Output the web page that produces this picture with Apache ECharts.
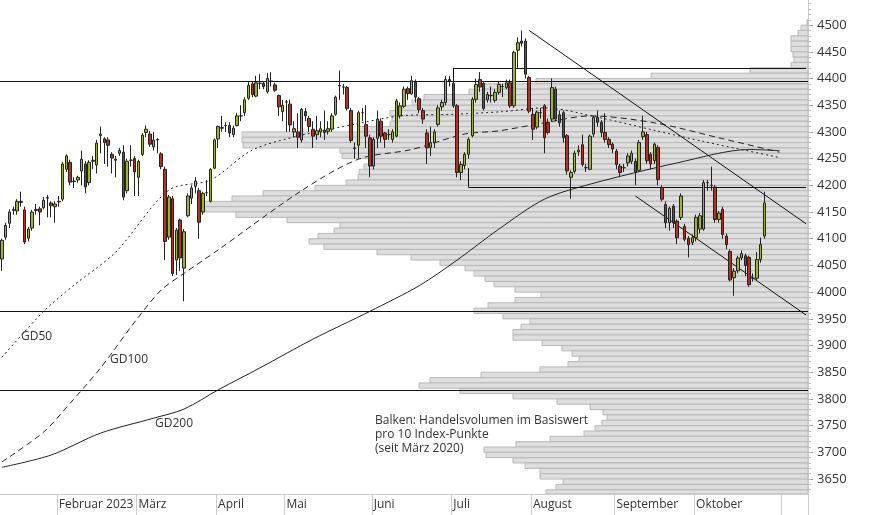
<!DOCTYPE html>
<html><head><meta charset="utf-8">
<script src="https://cdn.jsdelivr.net/npm/echarts@6/dist/echarts.min.js"></script>
<style>html,body{margin:0;padding:0;background:#fff}#c{width:874px;height:515px}</style>
</head><body><div id="c"></div>
<script>
// [open, close, low, high]
const ohlc = [
[4062,4097,4040,4100],[4103,4125,4098,4130],[4129,4150,4120,4155],[4153,4155,4145,4160],[4152,4170,4145,4174],
[4168,4170,4160,4188],[4154,4094,4090,4160],[4101,4118,4095,4122],[4120,4150,4115,4154],[4153,4155,4145,4165],
[4156,4150,4125,4160],[4158,4172,4155,4178],[4176,4177,4140,4182],[4167,4162,4140,4170],[4160,4165,4130,4170],
[4169,4170,4160,4180],[4174,4240,4170,4244],[4230,4255,4225,4258],[4243,4206,4200,4248],[4208,4207,4195,4215],
[4210,4215,4205,4218],[4227,4249,4200,4265],[4240,4197,4185,4245],[4205,4243,4200,4247],[4245,4247,4230,4255],
[4238,4279,4222,4285],[4293,4296,4260,4310],[4287,4280,4240,4290],[4285,4275,4235,4290],[4258,4251,4222,4262],
[4249,4247,4215,4255],[4260,4265,4255,4270],[4262,4178,4172,4275],[4190,4245,4185,4250],[4247,4247,4235,4275],
[4250,4225,4180,4255],[4215,4245,4180,4248],[4258,4294,4255,4298],[4299,4305,4290,4312],[4296,4277,4272,4302],
[4272,4285,4265,4300],[4286,4285,4260,4288],[4259,4235,4230,4262],[4230,4095,4060,4235],[4103,4178,4098,4182],
[4175,4035,4030,4180],[4060,4116,4032,4120],[4135,4064,4040,4138],[4045,4113,3983,4118],[4143,4180,4140,4185],
[4176,4195,4165,4200],[4198,4208,4185,4215],[4190,4131,4100,4195],[4150,4185,4145,4188],[4186,4186,4180,4210],
[4170,4230,4168,4232],[4232,4285,4230,4288],[4287,4310,4270,4312],[4307,4308,4300,4330],[4312,4312,4300,4318],
[4312,4298,4290,4318],[4295,4307,4290,4312],[4312,4330,4310,4335],[4330,4330,4320,4350],[4336,4360,4330,4365],
[4363,4387,4360,4395],[4390,4370,4365,4395],[4367,4392,4365,4405],[4391,4391,4380,4408],[4391,4385,4380,4395],
[4375,4400,4372,4410],[4395,4395,4385,4412],[4388,4378,4375,4392],[4368,4347,4330,4370],[4338,4350,4320,4360],
[4356,4356,4300,4360],[4352,4313,4300,4360],[4300,4306,4290,4320],[4300,4290,4270,4335],[4285,4342,4280,4345],
[4338,4330,4320,4345],[4325,4310,4300,4330],[4305,4292,4270,4320],[4295,4302,4285,4330],[4300,4306,4290,4320],
[4303,4299,4285,4340],[4301,4306,4295,4320],[4305,4330,4300,4335],[4333,4365,4330,4368],[4386,4387,4360,4415],
[4384,4384,4370,4390],[4383,4344,4340,4386],[4340,4284,4280,4345],[4270,4269,4250,4280],[4275,4336,4250,4340],
[4336,4336,4320,4345],[4314,4292,4270,4350],[4289,4236,4215,4295],[4236,4286,4230,4290],[4288,4324,4270,4340],
[4320,4292,4280,4325],[4298,4286,4270,4300],[4295,4295,4285,4305],[4286,4300,4280,4305],[4292,4358,4290,4362],
[4330,4349,4325,4355],[4348,4380,4345,4385],[4381,4372,4360,4385],[4371,4396,4370,4405],[4393,4365,4355,4398],
[4362,4342,4335,4365],[4340,4324,4315,4345],[4298,4270,4240,4305],[4271,4280,4255,4310],[4280,4300,4270,4305],
[4314,4345,4310,4350],[4347,4355,4340,4360],[4355,4398,4350,4405],[4398,4395,4385,4405],[4391,4349,4345,4396],
[4349,4224,4215,4352],[4224,4239,4210,4245],[4237,4258,4230,4262],[4258,4286,4250,4290],[4293,4361,4290,4365],
[4361,4389,4355,4400],[4398,4384,4375,4412],[4391,4344,4340,4395],[4360,4370,4355,4375],[4368,4368,4355,4385],
[4359,4374,4355,4380],[4374,4389,4370,4395],[4385,4385,4365,4390],[4383,4392,4380,4398],[4392,4349,4345,4398],
[4349,4449,4345,4452],[4453,4467,4420,4477],[4470,4466,4460,4490],[4470,4408,4400,4475],[4402,4339,4335,4405],
[4333,4305,4285,4345],[4309,4337,4305,4340],[4336,4336,4325,4345],[4349,4289,4260,4352],[4318,4299,4295,4325],
[4324,4383,4320,4400],[4380,4324,4320,4385],[4332,4317,4310,4340],[4336,4289,4280,4340],[4293,4227,4220,4296],
[4215,4224,4175,4228],[4226,4260,4222,4265],[4263,4266,4255,4275],[4276,4239,4235,4295],[4233,4233,4225,4240],
[4230,4292,4228,4295],[4296,4327,4290,4330],[4327,4318,4310,4340],[4318,4299,4290,4322],[4299,4286,4280,4335],
[4286,4276,4270,4290],[4277,4268,4260,4280],[4264,4239,4230,4268],[4236,4224,4215,4240],[4233,4233,4225,4240],
[4242,4255,4235,4260],[4245,4260,4240,4265],[4245,4224,4200,4250],[4228,4280,4225,4285],[4291,4300,4285,4330],
[4295,4246,4240,4300],[4258,4240,4230,4262],[4246,4277,4240,4280],[4271,4211,4200,4275],[4196,4174,4170,4200],
[4164,4130,4120,4170],[4130,4157,4115,4160],[4161,4130,4120,4165],[4133,4102,4090,4136],[4140,4180,4135,4185],
[4123,4099,4095,4128],[4101,4089,4065,4105],[4093,4102,4088,4108],[4102,4140,4095,4145],[4118,4143,4110,4148],
[4118,4205,4115,4210],[4205,4205,4190,4210],[4200,4200,4190,4235],[4197,4136,4130,4200],[4136,4148,4130,4152],
[4155,4108,4100,4160],[4105,4089,4080,4110],[4076,4023,4020,4080],[4027,4039,3993,4045],[4040,4064,4035,4068],
[4064,4072,4060,4078],[4068,4050,4030,4072],[4065,4014,4010,4068],[4026,4026,4020,4035],[4026,4061,4022,4075],
[4061,4089,4055,4102],[4105,4167,4100,4188]
];
const totalSlots = 213;
const monthLabels = {15:'Februar 2023',36:'März',57:'April',75:'Mai',98:'Juni',119:'Juli',140:'August',162:'September',183:'Oktober',206:''};
// moving averages [slot, value]
const gd50 = [[0,3878],[11,3964],[19,4013],[30,4075],[44,4191],[55,4210],[66,4266],[79,4294],[92,4313],[105,4330],[119,4333],[132,4338],[143,4345],[158,4326],[172,4303],[185,4282],[205,4252]];
const gd100 = [[0,3682],[11,3738],[18,3792],[26,3858],[35,3944],[42,4004],[48,4035],[57,4079],[79,4190],[94,4249],[108,4267],[122,4296],[131,4302],[143,4317],[155,4330],[172,4317],[189,4289],[205,4262]];
const gd200 = [[0,3672],[13,3695],[26,3736],[40,3764],[48,3781],[57,3817],[68,3858],[82,3912],[97,3964],[110,4012],[120,4060],[131,4118],[143,4174],[155,4202],[178,4242],[197,4267],[205,4265]];
// volume profile per 10 index points: bin lower bound and volume
const binLows = [];
for (let v = 4500; v >= 3620; v -= 10) binLows.push(v);
const volumes = [1,7,10,17,17,17,15,14,17,58,157,272,325,339,384,396,406,418,416,418,449,566,566,565,468,466,437,444,449,450,462,493,545,576,609,605,572,521,468,474,490,499,484,431,397,368,343,334,323,314,293,267,293,320,334,305,278,287,295,295,266,246,236,229,240,268,327,378,389,348,295,251,218,205,201,206,213,224,258,292,324,322,295,283,268,268,245,252,262];
const yTicks = [3650,3700,3750,3800,3850,3900,3950,4000,4050,4100,4150,4200,4250,4300,4350,4400,4450,4500];
const minorTicks = []; for (let v = 3630; v <= 4540; v += 10) minorTicks.push(v);
const hLines = [4395, 3965, 3817];

const cats = []; for (let i = 0; i < totalSlots; i++) cats.push(monthLabels[i] !== undefined ? monthLabels[i] : '');
const isMonth = (i) => monthLabels[i] !== undefined;
const profile = binLows.map((b, i) => [volumes[i], b]);
const font = 'Open Sans, Noto Sans, sans-serif';

const chart = echarts.init(document.getElementById('c'));
const lineStyle = {color:'#222', width:1};
chart.setOption({
  animation:false,
  grid:{left:0, right:66, top:0, bottom:21},
  xAxis:[
    {type:'category', data:cats, boundaryGap:true,
     axisLine:{lineStyle:{color:'#ccc'}},
     axisTick:{show:true, interval:(i)=>isMonth(i), length:21, lineStyle:{color:'#ccc'}},
     axisLabel:{interval:(i)=>isMonth(i), hideOverlap:false, align:'left', margin:5, padding:[0,0,0,0], color:'#333', fontSize:12, fontFamily:font},
     splitLine:{show:false}},
    {type:'value', min:0, max:808, inverse:true, show:false}
  ],
  yAxis:[
    {type:'value', position:'right', min:3622, max:4547, scale:true,
     axisLine:{show:true, lineStyle:{color:'#ccc'}},
     axisTick:{show:true, length:5, customValues:yTicks, lineStyle:{color:'#999'}},
     axisLabel:{customValues:yTicks, formatter:(v)=>String(v), color:'#333', fontSize:13, fontFamily:font, margin:9},
     splitLine:{show:false}},
    {type:'value', position:'right', min:3622, max:4547,
     axisLine:{show:false}, axisLabel:{show:false}, splitLine:{show:false},
     axisTick:{show:true, length:3, customValues:minorTicks, lineStyle:{color:'#bbb'}}}
  ],
  series:[
    {type:'custom', xAxisIndex:1, yAxisIndex:0, data:profile, z:1, silent:true, clip:true,
     renderItem:(params, api)=>{
       const p0 = api.coord([0, api.value(1)]);
       const p1 = api.coord([api.value(0), api.value(1)+10]);
       const bottom = params.coordSys.y + params.coordSys.height;
       const y0 = Math.min(p0[1], bottom);
       return {type:'rect', shape:{x:p1[0], y:p1[1], width:p0[0]-p1[0], height:y0-p1[1]},
               style:{fill:'#dedede', stroke:'#b8b8b8', lineWidth:1}};
     }},
    {type:'line', data:gd200, smooth:0.3, symbol:'none', lineStyle:{...lineStyle}, z:3},
    {type:'line', data:gd100, smooth:0.3, symbol:'none', lineStyle:{...lineStyle, type:[6,4]}, z:3},
    {type:'line', data:gd50, smooth:0.3, symbol:'none', lineStyle:{...lineStyle, type:[2,3]}, z:3},
    {type:'candlestick', data:ohlc, barWidth:3, z:5,
     itemStyle:{color:'#a2b51c', color0:'#b5301f', borderColor:'#222', borderColor0:'#222', borderWidth:1},
     markLine:{silent:true, symbol:'none', label:{show:false}, lineStyle:{color:'#111', width:1, type:'solid'},
       data:[
         ...hLines.map(v=>({yAxis:v})),
         [{coord:[119,4395]},{coord:[119,4420]}],
         [{coord:[119,4420]},{coord:[212,4420]}],
         [{coord:[123,4232]},{coord:[123,4197]}],
         [{coord:[123,4197]},{coord:[212,4197]}],
         [{coord:[139,4490]},{coord:[212,4128]}],
         [{coord:[167,4180]},{coord:[212,3957]}]
       ]}}
  ],
  graphic:[
    {type:'text', left:21, top:331, style:{text:'GD50', fill:'#333', font:'12px '+font}},
    {type:'text', left:110, top:354, style:{text:'GD100', fill:'#333', font:'12px '+font}},
    {type:'text', left:155, top:418, style:{text:'GD200', fill:'#333', font:'12px '+font}},
    {type:'text', left:375, top:414, style:{text:'Balken: Handelsvolumen im Basiswert\npro 10 Index-Punkte\n(seit März 2020)', fill:'#333', font:'12px '+font, lineHeight:14}}
  ]
});
</script></body></html>
